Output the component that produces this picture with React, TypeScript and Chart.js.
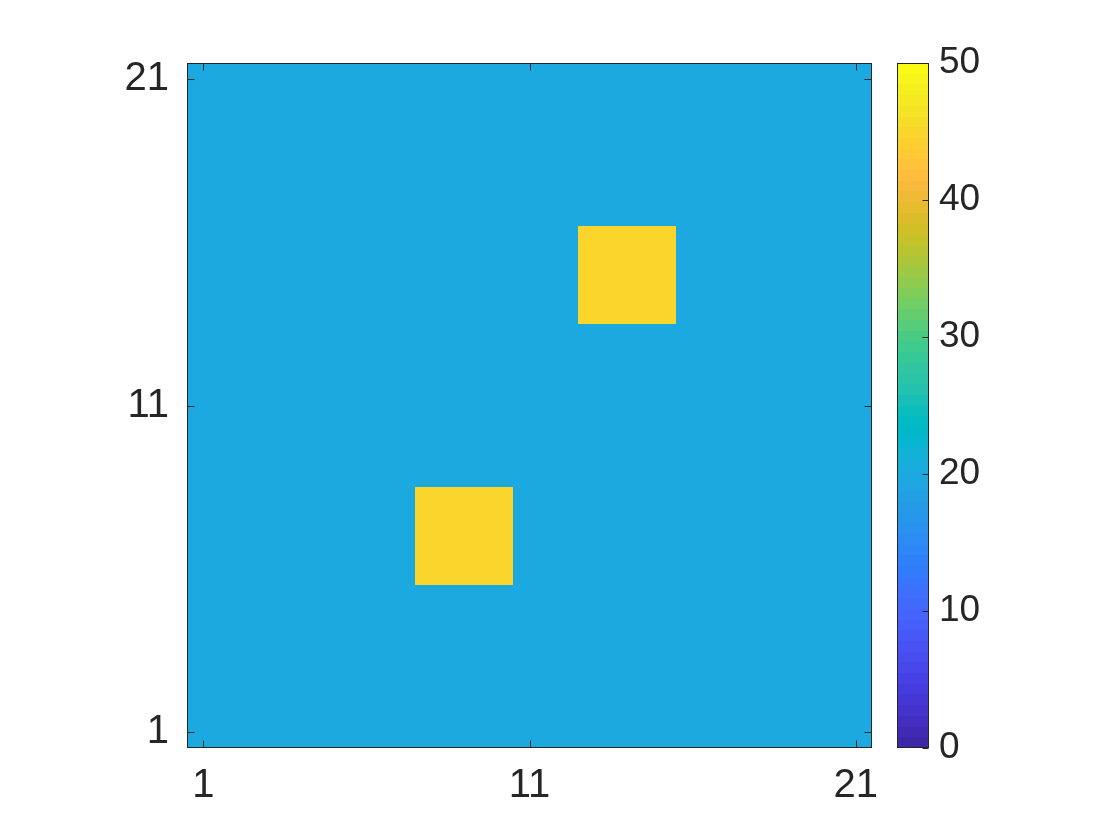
import React, { useEffect, useRef } from "react";
import { Chart, registerables } from "chart.js";

Chart.register(...registerables);

// ---------------- data ----------------
const xTickValues = [1, 11, 21];
const yTickValues = [1, 11, 21];
const colorbarTicks = [0, 10, 20, 30, 40, 50];
const colorLimits = [0, 50];
const gridSize = 21;

// zRows[r][c] : r = 0 is y = 1 (bottom), c = 0 is x = 1 (left)
const zRows: number[][] = [
  [20, 20, 20, 20, 20, 20, 20, 20, 20, 20, 20, 20, 20, 20, 20, 20, 20, 20, 20, 20, 20],
  [20, 20, 20, 20, 20, 20, 20, 20, 20, 20, 20, 20, 20, 20, 20, 20, 20, 20, 20, 20, 20],
  [20, 20, 20, 20, 20, 20, 20, 20, 20, 20, 20, 20, 20, 20, 20, 20, 20, 20, 20, 20, 20],
  [20, 20, 20, 20, 20, 20, 20, 20, 20, 20, 20, 20, 20, 20, 20, 20, 20, 20, 20, 20, 20],
  [20, 20, 20, 20, 20, 20, 20, 20, 20, 20, 20, 20, 20, 20, 20, 20, 20, 20, 20, 20, 20],
  [20, 20, 20, 20, 20, 20, 20, 45, 45, 45, 20, 20, 20, 20, 20, 20, 20, 20, 20, 20, 20],
  [20, 20, 20, 20, 20, 20, 20, 45, 45, 45, 20, 20, 20, 20, 20, 20, 20, 20, 20, 20, 20],
  [20, 20, 20, 20, 20, 20, 20, 45, 45, 45, 20, 20, 20, 20, 20, 20, 20, 20, 20, 20, 20],
  [20, 20, 20, 20, 20, 20, 20, 20, 20, 20, 20, 20, 20, 20, 20, 20, 20, 20, 20, 20, 20],
  [20, 20, 20, 20, 20, 20, 20, 20, 20, 20, 20, 20, 20, 20, 20, 20, 20, 20, 20, 20, 20],
  [20, 20, 20, 20, 20, 20, 20, 20, 20, 20, 20, 20, 20, 20, 20, 20, 20, 20, 20, 20, 20],
  [20, 20, 20, 20, 20, 20, 20, 20, 20, 20, 20, 20, 20, 20, 20, 20, 20, 20, 20, 20, 20],
  [20, 20, 20, 20, 20, 20, 20, 20, 20, 20, 20, 20, 20, 20, 20, 20, 20, 20, 20, 20, 20],
  [20, 20, 20, 20, 20, 20, 20, 20, 20, 20, 20, 20, 45, 45, 45, 20, 20, 20, 20, 20, 20],
  [20, 20, 20, 20, 20, 20, 20, 20, 20, 20, 20, 20, 45, 45, 45, 20, 20, 20, 20, 20, 20],
  [20, 20, 20, 20, 20, 20, 20, 20, 20, 20, 20, 20, 45, 45, 45, 20, 20, 20, 20, 20, 20],
  [20, 20, 20, 20, 20, 20, 20, 20, 20, 20, 20, 20, 20, 20, 20, 20, 20, 20, 20, 20, 20],
  [20, 20, 20, 20, 20, 20, 20, 20, 20, 20, 20, 20, 20, 20, 20, 20, 20, 20, 20, 20, 20],
  [20, 20, 20, 20, 20, 20, 20, 20, 20, 20, 20, 20, 20, 20, 20, 20, 20, 20, 20, 20, 20],
  [20, 20, 20, 20, 20, 20, 20, 20, 20, 20, 20, 20, 20, 20, 20, 20, 20, 20, 20, 20, 20],
  [20, 20, 20, 20, 20, 20, 20, 20, 20, 20, 20, 20, 20, 20, 20, 20, 20, 20, 20, 20, 20],
];

// MATLAB parula (64 entries)
const parula: number[][] = [
  [0.2422, 0.1504, 0.6603], [0.2504, 0.165, 0.7076], [0.2578, 0.1818, 0.7511], [0.2647, 0.1978, 0.7952],
  [0.2706, 0.2147, 0.8364], [0.2751, 0.2342, 0.871], [0.2783, 0.2559, 0.8991], [0.2803, 0.2782, 0.9221],
  [0.2813, 0.3006, 0.9414], [0.281, 0.3228, 0.9579], [0.2795, 0.3447, 0.9717], [0.276, 0.3667, 0.9829],
  [0.2699, 0.3892, 0.9906], [0.2602, 0.4123, 0.9952], [0.244, 0.4358, 0.9988], [0.2206, 0.4603, 0.9973],
  [0.1963, 0.4847, 0.9892], [0.1834, 0.5074, 0.9798], [0.1786, 0.5289, 0.9682], [0.1764, 0.5499, 0.952],
  [0.1687, 0.5703, 0.9359], [0.154, 0.5902, 0.9218], [0.146, 0.6091, 0.9079], [0.138, 0.6276, 0.8973],
  [0.1248, 0.6459, 0.8883], [0.1113, 0.6635, 0.8763], [0.0952, 0.6798, 0.8598], [0.0689, 0.6948, 0.8394],
  [0.0297, 0.7082, 0.8163], [0.0036, 0.7203, 0.7917], [0.0067, 0.7312, 0.766], [0.0433, 0.7411, 0.7394],
  [0.0964, 0.75, 0.712], [0.1408, 0.7584, 0.6842], [0.1717, 0.767, 0.6554], [0.1938, 0.7758, 0.6251],
  [0.2161, 0.7843, 0.5923], [0.247, 0.7918, 0.5567], [0.2906, 0.7973, 0.5188], [0.3406, 0.8008, 0.4789],
  [0.3909, 0.8029, 0.4354], [0.4456, 0.8024, 0.3909], [0.5044, 0.7993, 0.348], [0.5616, 0.7942, 0.3045],
  [0.6174, 0.7876, 0.2612], [0.672, 0.7793, 0.2227], [0.7242, 0.7698, 0.191], [0.7738, 0.7598, 0.1646],
  [0.8203, 0.7498, 0.1535], [0.8634, 0.7406, 0.1596], [0.9035, 0.733, 0.1774], [0.9393, 0.7288, 0.21],
  [0.9728, 0.7298, 0.2394], [0.9956, 0.7434, 0.2371], [0.997, 0.7659, 0.2199], [0.9952, 0.7893, 0.2028],
  [0.9892, 0.8136, 0.1885], [0.9786, 0.8386, 0.1766], [0.9676, 0.8639, 0.1643], [0.961, 0.889, 0.1537],
  [0.9597, 0.9135, 0.1423], [0.9628, 0.9373, 0.1265], [0.9691, 0.9606, 0.1064], [0.9769, 0.9839, 0.0805],
];

// ---------------- styles ----------------
const TEXT_COLOR = "#262626";
const FONT_FAMILY = '"Liberation Sans", Arial, Helvetica, sans-serif';
const AXIS_FONT_SIZE = 40;
const CB_FONT_SIZE = 37;
const TICK_LEN = 7;
const CB_TICK_LEN = 6;

function cmapIndexColor(i: number): string {
  const c = parula[i];
  return `rgb(${Math.round(c[0] * 255)},${Math.round(c[1] * 255)},${Math.round(c[2] * 255)})`;
}

function valueToColor(v: number): string {
  const [lo, hi] = colorLimits;
  const n = parula.length;
  let idx = Math.floor(((v - lo) / (hi - lo)) * n);
  idx = Math.max(0, Math.min(n - 1, idx));
  return cmapIndexColor(idx);
}

const heatmapPlugin = {
  id: "heatmapCells",
  beforeDatasetsDraw(chart: any) {
    const { ctx, scales } = chart;
    const xs = scales.x;
    const ys = scales.y;
    ctx.save();
    for (let r = 0; r < zRows.length; r++) {
      for (let c = 0; c < zRows[r].length; c++) {
        const xv = c + 1;
        const yv = r + 1;
        const x0 = Math.round(xs.getPixelForValue(xv - 0.5));
        const x1 = Math.round(xs.getPixelForValue(xv + 0.5));
        const y0 = Math.round(ys.getPixelForValue(yv + 0.5));
        const y1 = Math.round(ys.getPixelForValue(yv - 0.5));
        ctx.fillStyle = valueToColor(zRows[r][c]);
        ctx.fillRect(x0, y0, x1 - x0, y1 - y0);
      }
    }
    ctx.restore();
  },
  afterDraw(chart: any) {
    const { ctx, chartArea, scales } = chart;
    const l = Math.round(chartArea.left) + 0.5;
    const t = Math.round(chartArea.top) + 0.5;
    const r = Math.round(chartArea.right) - 0.5;
    const b = Math.round(chartArea.bottom) - 0.5;
    ctx.save();
    ctx.strokeStyle = TEXT_COLOR;
    ctx.lineWidth = 1;
    ctx.beginPath();
    xTickValues.forEach((v) => {
      const px = Math.round(scales.x.getPixelForValue(v)) + 0.5;
      ctx.moveTo(px, b);
      ctx.lineTo(px, b - TICK_LEN);
      ctx.moveTo(px, t);
      ctx.lineTo(px, t + TICK_LEN);
    });
    yTickValues.forEach((v) => {
      const py = Math.round(scales.y.getPixelForValue(v)) + 0.5;
      ctx.moveTo(l, py);
      ctx.lineTo(l + TICK_LEN, py);
      ctx.moveTo(r, py);
      ctx.lineTo(r - TICK_LEN, py);
    });
    ctx.stroke();
    ctx.strokeRect(l, t, r - l, b - t);
    ctx.restore();
  },
};

const colorbarPlugin = {
  id: "colorbarSteps",
  beforeDatasetsDraw(chart: any) {
    const { ctx, chartArea, scales } = chart;
    const ys = scales.y;
    const [lo, hi] = colorLimits;
    const n = parula.length;
    ctx.save();
    for (let i = 0; i < n; i++) {
      const v0 = lo + ((hi - lo) * i) / n;
      const v1 = lo + ((hi - lo) * (i + 1)) / n;
      const yTop = Math.round(ys.getPixelForValue(v1));
      const yBot = Math.round(ys.getPixelForValue(v0));
      ctx.fillStyle = cmapIndexColor(i);
      ctx.fillRect(Math.round(chartArea.left), yTop, Math.round(chartArea.right) - Math.round(chartArea.left), yBot - yTop);
    }
    ctx.restore();
  },
  afterDraw(chart: any) {
    const { ctx, chartArea, scales } = chart;
    const l = Math.round(chartArea.left) + 0.5;
    const t = Math.round(chartArea.top) + 0.5;
    const r = Math.round(chartArea.right) - 0.5;
    const b = Math.round(chartArea.bottom) - 0.5;
    ctx.save();
    ctx.strokeStyle = TEXT_COLOR;
    ctx.lineWidth = 1;
    ctx.beginPath();
    colorbarTicks.forEach((v) => {
      const py = Math.round(scales.y.getPixelForValue(v)) + 0.5;
      ctx.moveTo(r, py);
      ctx.lineTo(r - CB_TICK_LEN, py);
    });
    ctx.stroke();
    ctx.strokeRect(l, t, r - l, b - t);
    ctx.restore();
  },
};

export default function App() {
  const mainRef = useRef<HTMLCanvasElement | null>(null);
  const cbRef = useRef<HTMLCanvasElement | null>(null);

  useEffect(() => {
    if (!mainRef.current || !cbRef.current) return;

    const main = new Chart(mainRef.current, {
      type: "scatter",
      data: { datasets: [] },
      options: {
        animation: false,
        responsive: false,
        events: [],
        layout: { padding: { left: 107, top: 63, right: 248, bottom: 32 } },
        plugins: { legend: { display: false }, tooltip: { enabled: false }, title: { display: false } },
        scales: {
          x: {
            type: "linear",
            position: "bottom",
            min: 0.5,
            max: gridSize + 0.5,
            grid: { display: false, drawTicks: false },
            border: { display: false },
            ticks: {
              color: TEXT_COLOR,
              font: { family: FONT_FAMILY, size: AXIS_FONT_SIZE },
              padding: 14,
              maxRotation: 0,
              autoSkip: false,
              callback: (v: any) => String(v),
            },
            afterBuildTicks: (s: any) => {
              s.ticks = xTickValues.map((v) => ({ value: v }));
            },
            afterFit: (s: any) => {
              s.height = 60;
              s.paddingLeft = 0;
              s.paddingRight = 0;
            },
          },
          y: {
            type: "linear",
            position: "left",
            min: 0.5,
            max: gridSize + 0.5,
            grid: { display: false, drawTicks: false },
            border: { display: false },
            ticks: {
              color: TEXT_COLOR,
              font: { family: FONT_FAMILY, size: AXIS_FONT_SIZE },
              padding: 18,
              autoSkip: false,
              callback: (v: any) => String(v),
            },
            afterBuildTicks: (s: any) => {
              s.ticks = yTickValues.map((v) => ({ value: v }));
            },
            afterFit: (s: any) => {
              s.width = 80;
              s.paddingTop = 0;
              s.paddingBottom = 0;
            },
          },
        },
      },
      plugins: [heatmapPlugin],
    } as any);

    const cb = new Chart(cbRef.current, {
      type: "scatter",
      data: { datasets: [] },
      options: {
        animation: false,
        responsive: false,
        events: [],
        layout: { padding: { left: 897, top: 63, right: 131, bottom: 92 } },
        plugins: { legend: { display: false }, tooltip: { enabled: false }, title: { display: false } },
        scales: {
          x: { type: "linear", display: false, min: 0, max: 1 },
          y: {
            type: "linear",
            position: "right",
            min: colorLimits[0],
            max: colorLimits[1],
            grid: { display: false, drawTicks: false },
            border: { display: false },
            ticks: {
              color: TEXT_COLOR,
              font: { family: FONT_FAMILY, size: CB_FONT_SIZE },
              padding: 10,
              autoSkip: false,
              callback: (v: any) => String(v),
            },
            afterBuildTicks: (s: any) => {
              s.ticks = colorbarTicks.map((v) => ({ value: v }));
            },
            afterFit: (s: any) => {
              s.width = 60;
              s.paddingTop = 0;
              s.paddingBottom = 0;
            },
          },
        },
      },
      plugins: [colorbarPlugin],
    } as any);

    return () => {
      main.destroy();
      cb.destroy();
    };
  }, []);

  return (
    <div style={{ position: "fixed", left: 0, top: 0, width: 1120, height: 840, background: "#ffffff" }}>
      <canvas ref={mainRef} width={1120} height={840} style={{ position: "absolute", left: 0, top: 0, width: 1120, height: 840 }} />
      <canvas ref={cbRef} width={1120} height={840} style={{ position: "absolute", left: 0, top: 0, width: 1120, height: 840 }} />
    </div>
  );
}
